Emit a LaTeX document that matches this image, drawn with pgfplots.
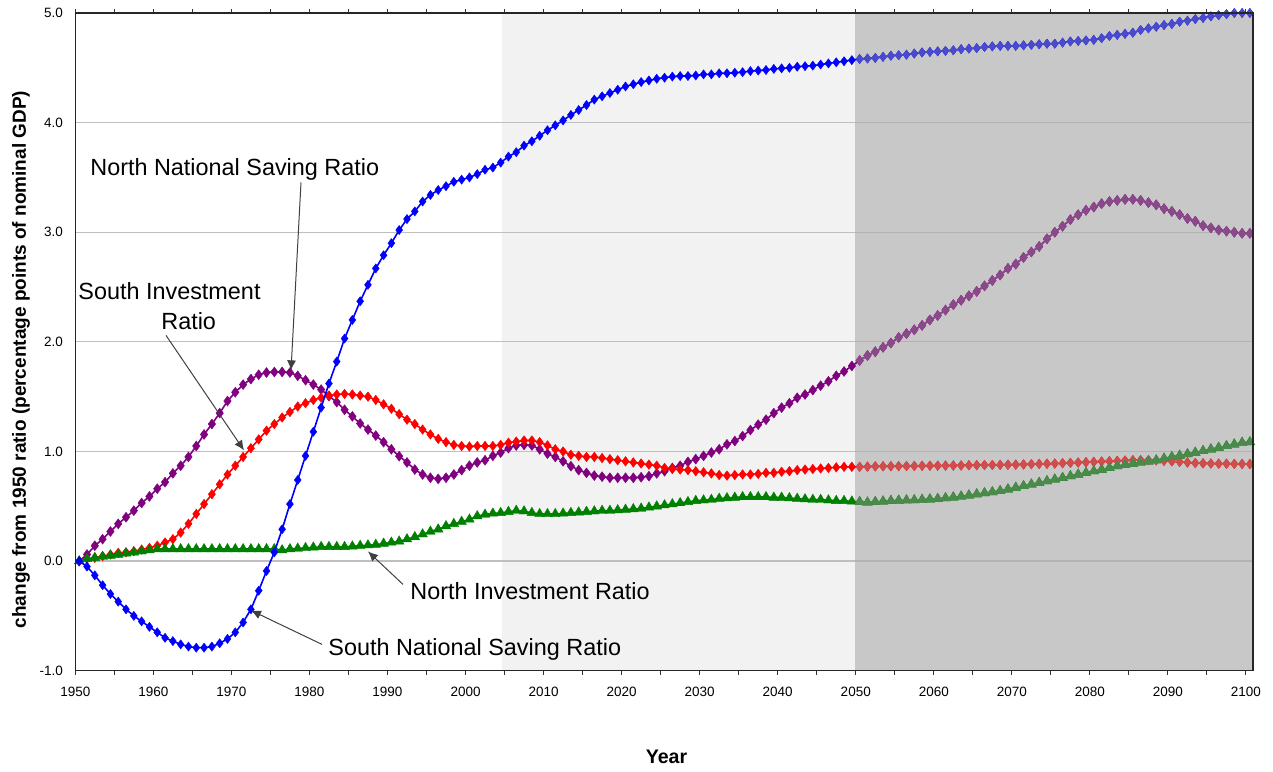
\documentclass[border=0pt]{standalone}
\usepackage{pgfplots}
\pgfplotsset{compat=1.18}
\usepackage{pgfplotstable}
\usepackage{fontspec}
\setmainfont{Liberation Sans}
\usetikzlibrary{arrows.meta}

\definecolor{sblue}{RGB}{0,0,255}
\definecolor{sred}{RGB}{255,0,0}
\definecolor{sgreen}{RGB}{0,128,0}
\definecolor{spurple}{RGB}{128,0,128}
\definecolor{fblue}{RGB}{74,74,204}
\definecolor{fred}{RGB}{206,78,78}
\definecolor{fgreen}{RGB}{74,138,74}
\definecolor{fpurple}{RGB}{138,74,138}
\definecolor{lightshade}{RGB}{242,242,242}
\definecolor{darkshade}{RGB}{200,200,200}
\definecolor{darkgrid}{RGB}{178,178,178}

% South National Saving Ratio
\pgfplotstableread{
year val
1950 0.00
1951 -0.05
1952 -0.13
1953 -0.22
1954 -0.30
1955 -0.37
1956 -0.44
1957 -0.50
1958 -0.55
1959 -0.60
1960 -0.65
1961 -0.70
1962 -0.73
1963 -0.76
1964 -0.78
1965 -0.79
1966 -0.79
1967 -0.78
1968 -0.75
1969 -0.71
1970 -0.65
1971 -0.56
1972 -0.44
1973 -0.27
1974 -0.09
1975 0.08
1976 0.29
1977 0.52
1978 0.74
1979 0.96
1980 1.18
1981 1.40
1982 1.62
1983 1.82
1984 2.03
1985 2.20
1986 2.37
1987 2.52
1988 2.67
1989 2.79
1990 2.90
1991 3.02
1992 3.12
1993 3.19
1994 3.28
1995 3.34
1996 3.385
1997 3.42
1998 3.46
1999 3.48
2000 3.50
2001 3.53
2002 3.57
2003 3.59
2004 3.635
2005 3.69
2006 3.73
2007 3.79
2008 3.83
2009 3.88
2010 3.93
2011 3.975
2012 4.02
2013 4.07
2014 4.115
2015 4.16
2016 4.21
2017 4.24
2018 4.27
2019 4.30
2020 4.33
2021 4.35
2022 4.37
2023 4.385
2024 4.40
2025 4.41
2026 4.42
2027 4.425
2028 4.425
2029 4.43
2030 4.44
2031 4.44
2032 4.45
2033 4.45
2034 4.455
2035 4.46
2036 4.47
2037 4.475
2038 4.48
2039 4.49
2040 4.495
2041 4.50
2042 4.51
2043 4.515
2044 4.52
2045 4.53
2046 4.54
2047 4.55
2048 4.56
2049 4.57
2050 4.58
2051 4.585
2052 4.59
2053 4.60
2054 4.61
2055 4.615
2056 4.62
2057 4.63
2058 4.64
2059 4.645
2060 4.65
2061 4.655
2062 4.66
2063 4.67
2064 4.675
2065 4.68
2066 4.69
2067 4.695
2068 4.70
2069 4.70
2070 4.70
2071 4.705
2072 4.71
2073 4.715
2074 4.72
2075 4.72
2076 4.73
2077 4.74
2078 4.745
2079 4.75
2080 4.755
2081 4.77
2082 4.79
2083 4.80
2084 4.81
2085 4.82
2086 4.845
2087 4.86
2088 4.875
2089 4.89
2090 4.90
2091 4.92
2092 4.93
2093 4.945
2094 4.955
2095 4.97
2096 4.98
2097 4.99
2098 5.00
2099 5.00
2100 5.00
}\sns

% South Investment Ratio
\pgfplotstableread{
year val
1950 0.00
1951 0.02
1952 0.03
1953 0.045
1954 0.06
1955 0.075
1956 0.08
1957 0.09
1958 0.105
1959 0.12
1960 0.14
1961 0.17
1962 0.20
1963 0.26
1964 0.34
1965 0.43
1966 0.52
1967 0.61
1968 0.70
1969 0.79
1970 0.87
1971 0.95
1972 1.03
1973 1.11
1974 1.19
1975 1.25
1976 1.31
1977 1.36
1978 1.41
1979 1.44
1980 1.47
1981 1.49
1982 1.51
1983 1.52
1984 1.525
1985 1.52
1986 1.51
1987 1.50
1988 1.47
1989 1.43
1990 1.39
1991 1.34
1992 1.29
1993 1.25
1994 1.20
1995 1.155
1996 1.115
1997 1.085
1998 1.06
1999 1.05
2000 1.045
2001 1.05
2002 1.05
2003 1.05
2004 1.06
2005 1.08
2006 1.09
2007 1.10
2008 1.10
2009 1.085
2010 1.055
2011 1.02
2012 1.00
2013 0.97
2014 0.96
2015 0.95
2016 0.95
2017 0.94
2018 0.93
2019 0.92
2020 0.91
2021 0.90
2022 0.89
2023 0.88
2024 0.87
2025 0.85
2026 0.84
2027 0.835
2028 0.83
2029 0.82
2030 0.81
2031 0.80
2032 0.785
2033 0.78
2034 0.785
2035 0.79
2036 0.79
2037 0.795
2038 0.805
2039 0.805
2040 0.815
2041 0.82
2042 0.83
2043 0.835
2044 0.84
2045 0.845
2046 0.85
2047 0.855
2048 0.86
2049 0.86
2050 0.86
2051 0.862
2052 0.864
2053 0.865
2054 0.865
2055 0.866
2056 0.867
2057 0.868
2058 0.869
2059 0.87
2060 0.87
2061 0.871
2062 0.872
2063 0.873
2064 0.874
2065 0.875
2066 0.876
2067 0.877
2068 0.878
2069 0.879
2070 0.88
2071 0.882
2072 0.884
2073 0.886
2074 0.888
2075 0.89
2076 0.893
2077 0.896
2078 0.899
2079 0.902
2080 0.905
2081 0.908
2082 0.911
2083 0.914
2084 0.917
2085 0.92
2086 0.921
2087 0.921
2088 0.92
2089 0.915
2090 0.91
2091 0.905
2092 0.90
2093 0.895
2094 0.892
2095 0.89
2096 0.889
2097 0.888
2098 0.887
2099 0.886
2100 0.885
}\sinv

% North Investment Ratio
\pgfplotstableread{
year val
1950 0.00
1951 0.02
1952 0.03
1953 0.04
1954 0.05
1955 0.06
1956 0.07
1957 0.08
1958 0.09
1959 0.10
1960 0.11
1961 0.11
1962 0.11
1963 0.11
1964 0.11
1965 0.11
1966 0.11
1967 0.11
1968 0.11
1969 0.11
1970 0.11
1971 0.11
1972 0.11
1973 0.11
1974 0.11
1975 0.11
1976 0.10
1977 0.11
1978 0.115
1979 0.12
1980 0.125
1981 0.13
1982 0.13
1983 0.13
1984 0.13
1985 0.135
1986 0.14
1987 0.145
1988 0.15
1989 0.16
1990 0.17
1991 0.18
1992 0.20
1993 0.22
1994 0.245
1995 0.27
1996 0.29
1997 0.32
1998 0.34
1999 0.36
2000 0.38
2001 0.41
2002 0.425
2003 0.435
2004 0.44
2005 0.45
2006 0.46
2007 0.455
2008 0.44
2009 0.43
2010 0.43
2011 0.43
2012 0.435
2013 0.44
2014 0.445
2015 0.45
2016 0.455
2017 0.46
2018 0.46
2019 0.465
2020 0.47
2021 0.475
2022 0.48
2023 0.49
2024 0.50
2025 0.51
2026 0.52
2027 0.53
2028 0.54
2029 0.55
2030 0.555
2031 0.56
2032 0.57
2033 0.575
2034 0.58
2035 0.585
2036 0.585
2037 0.585
2038 0.585
2039 0.58
2040 0.58
2041 0.575
2042 0.57
2043 0.565
2044 0.56
2045 0.56
2046 0.555
2047 0.55
2048 0.55
2049 0.545
2050 0.54
2051 0.535
2052 0.54
2053 0.545
2054 0.55
2055 0.553
2056 0.555
2057 0.556
2058 0.56
2059 0.564
2060 0.568
2061 0.575
2062 0.582
2063 0.59
2064 0.60
2065 0.61
2066 0.62
2067 0.63
2068 0.64
2069 0.655
2070 0.67
2071 0.685
2072 0.70
2073 0.715
2074 0.73
2075 0.745
2076 0.76
2077 0.775
2078 0.79
2079 0.805
2080 0.82
2081 0.835
2082 0.85
2083 0.866
2084 0.878
2085 0.89
2086 0.90
2087 0.91
2088 0.92
2089 0.935
2090 0.95
2091 0.963
2092 0.976
2093 0.99
2094 1.005
2095 1.02
2096 1.035
2097 1.05
2098 1.065
2099 1.08
2100 1.085
}\ninv

% North National Saving Ratio
\pgfplotstableread{
year val
1950 0.00
1951 0.06
1952 0.14
1953 0.20
1954 0.27
1955 0.34
1956 0.40
1957 0.46
1958 0.53
1959 0.59
1960 0.66
1961 0.72
1962 0.80
1963 0.87
1964 0.95
1965 1.05
1966 1.155
1967 1.25
1968 1.35
1969 1.46
1970 1.54
1971 1.61
1972 1.66
1973 1.70
1974 1.72
1975 1.725
1976 1.725
1977 1.72
1978 1.69
1979 1.65
1980 1.61
1981 1.565
1982 1.505
1983 1.45
1984 1.38
1985 1.32
1986 1.255
1987 1.20
1988 1.145
1989 1.085
1990 1.02
1991 0.957
1992 0.90
1993 0.835
1994 0.79
1995 0.76
1996 0.75
1997 0.76
1998 0.79
1999 0.83
2000 0.87
2001 0.90
2002 0.92
2003 0.96
2004 0.99
2005 1.03
2006 1.055
2007 1.06
2008 1.055
2009 1.02
2010 0.98
2011 0.95
2012 0.91
2013 0.866
2014 0.83
2015 0.805
2016 0.78
2017 0.77
2018 0.76
2019 0.76
2020 0.76
2021 0.76
2022 0.765
2023 0.775
2024 0.80
2025 0.82
2026 0.85
2027 0.87
2028 0.905
2029 0.93
2030 0.96
2031 0.99
2032 1.02
2033 1.065
2034 1.095
2035 1.14
2036 1.195
2037 1.245
2038 1.29
2039 1.35
2040 1.40
2041 1.44
2042 1.49
2043 1.52
2044 1.56
2045 1.60
2046 1.64
2047 1.69
2048 1.73
2049 1.78
2050 1.83
2051 1.875
2052 1.91
2053 1.95
2054 1.99
2055 2.04
2056 2.075
2057 2.11
2058 2.15
2059 2.20
2060 2.24
2061 2.29
2062 2.34
2063 2.38
2064 2.42
2065 2.46
2066 2.51
2067 2.56
2068 2.61
2069 2.67
2070 2.71
2071 2.77
2072 2.82
2073 2.87
2074 2.94
2075 3.00
2076 3.055
2077 3.115
2078 3.16
2079 3.20
2080 3.23
2081 3.26
2082 3.28
2083 3.29
2084 3.30
2085 3.30
2086 3.29
2087 3.27
2088 3.25
2089 3.215
2090 3.19
2091 3.16
2092 3.125
2093 3.10
2094 3.06
2095 3.04
2096 3.02
2097 3.01
2098 3.00
2099 2.99
2100 2.99
}\nns

\pgfplotsset{
  ser/.style 2 args={#1, line width=0.8pt, mark=#2,
    mark options={solid, fill=#1, draw=#1, line width=0.2pt}},
  proj/.style={restrict x to domain=2049.5:2101},
}

\begin{document}
\begin{tikzpicture}
\begin{axis}[
  set layers,
  scale only axis,
  width=588.85pt, height=328.85pt,
  xmin=1949.5, xmax=2100.4, ymin=-1, ymax=5,
  xtick={1949.5,1954.5,1959.5,1964.5,1969.5,1974.5,1979.5,1984.5,1989.5,1994.5,1999.5,2004.5,2009.5,2014.5,2019.5,2024.5,2029.5,2034.5,2039.5,2044.5,2049.5,2054.5,2059.5,2064.5,2069.5,2074.5,2079.5,2084.5,2089.5,2094.5,2099.5},
  xticklabels={1950,,1960,,1970,,1980,,1990,,2000,,2010,,2020,,2030,,2040,,2050,,2060,,2070,,2080,,2090,,2100},
  ytick={-1,0,1,2,3,4,5},
  yticklabels={-1.0,0.0,1.0,2.0,3.0,4.0,5.0},
  ymajorgrids,
  grid style={draw=black!25, line width=0.6pt},
  tick align=outside,
  major tick length=2pt,
  ytick style={draw=none},
  xtick style={draw=black!80, line width=0.5pt},
  axis line style={draw=black!85, line width=0.7pt},
  tick label style={font=\fontsize{6.75}{8}\selectfont},
  xticklabel style={anchor=north, inner sep=0pt, yshift=-6pt},
  yticklabel style={anchor=east, inner sep=0pt, xshift=-4pt},
  clip mode=individual,
]
% shaded projection periods, behind the grid
\begin{pgfonlayer}{axis background}
\fill[lightshade] (axis cs:2004.2,-1) rectangle (axis cs:2049.4,5);
\fill[darkshade] (axis cs:2049.4,-1) rectangle (axis cs:2100.4,5);
\end{pgfonlayer}
\begin{pgfonlayer}{axis grid}
\foreach \yy in {1,2,3,4} {
  \edef\temp{\noexpand\draw[darkgrid, line width=0.6pt] (axis cs:2049.4,\yy) -- (axis cs:2100.4,\yy);}
  \temp
}
\draw[darkgrid, line width=0.6pt] (axis cs:2049.4,0) -- (axis cs:2100.4,0);
\end{pgfonlayer}

\addplot[ser={spurple}{diamond*}, mark size=2.5pt] table[x=year,y=val] {\nns};
\addplot[ser={sred}{diamond*}, mark size=2.4pt] table[x=year,y=val] {\sinv};
\addplot[ser={sgreen}{triangle*}, mark size=2.8pt] table[x=year,y=val] {\ninv};
\addplot[ser={sblue}{diamond*}, mark size=2.3pt] table[x=year,y=val] {\sns};
% the same series, toned down inside the darker projection band
\addplot[ser={fpurple}{diamond*}, mark size=2.5pt, proj] table[x=year,y=val] {\nns};
\addplot[ser={fred}{diamond*}, mark size=2.4pt, proj] table[x=year,y=val] {\sinv};
\addplot[ser={fgreen}{triangle*}, mark size=2.8pt, proj] table[x=year,y=val] {\ninv};
\addplot[ser={fblue}{diamond*}, mark size=2.3pt, proj] table[x=year,y=val] {\sns};

\coordinate (SW) at (rel axis cs:0,0);
\coordinate (NE) at (rel axis cs:1,1);

% annotations
\begin{scope}[font=\fontsize{11.7}{14}\selectfont]
\node[anchor=base west, inner sep=0pt] at (axis cs:1951.38,3.513) {North National Saving Ratio};
\node[anchor=base west, inner sep=0pt] at (axis cs:1949.85,2.382) {South Investment};
\node[anchor=base west, inner sep=0pt] at (axis cs:1960.48,2.109) {Ratio};
\node[anchor=base west, inner sep=0pt] at (axis cs:1992.38,-0.349) {North Investment Ratio};
\node[anchor=base west, inner sep=0pt] at (axis cs:1981.88,-0.857) {South National Saving Ratio};
\end{scope}
\begin{scope}[draw=black!75, line width=0.5pt, -{Latex[length=5pt,width=4.5pt]}]
\draw (axis cs:1978.42,3.454) -- (axis cs:1977.14,1.74);
\draw (axis cs:1961.12,2.059) -- (axis cs:1971.12,1.01);
\draw (axis cs:1991.49,-0.213) -- (axis cs:1987.0,0.088);
\draw (axis cs:1981.11,-0.76) -- (axis cs:1972.01,-0.45);
\end{scope}
\end{axis}
\draw[black!85, line width=0.7pt] (SW) rectangle (NE);
\node[rotate=90, font=\bfseries\fontsize{9.5}{11}\selectfont] at ([shift={(-27.15pt,155.6pt)}]SW) {change from 1950 ratio (percentage points of nominal GDP)};
\node[font=\bfseries\fontsize{9.8}{11}\selectfont] at ([shift={(295.6pt,-43.15pt)}]SW) {Year};
\pgfresetboundingbox
\path[use as bounding box] ([shift={(-37.65pt,-50.15pt)}]SW) rectangle ([shift={(10pt,6.5pt)}]NE);
\end{tikzpicture}
\end{document}
